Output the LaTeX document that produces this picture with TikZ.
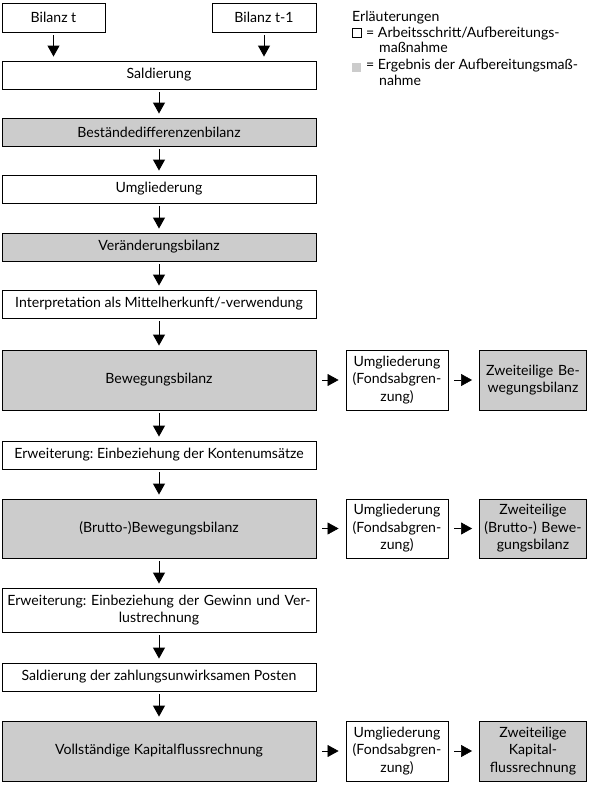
\documentclass[tikz,border=0pt]{standalone}
\usepackage{fontspec}
\setmainfont{Lato}
\usetikzlibrary{arrows.meta}
\begin{document}
\frenchspacing
\begin{tikzpicture}[x=1pt,y=-1pt,
  txt/.style={font=\fontsize{14.1}{17.5}\selectfont},
  box/.style={txt, draw=black, line width=0.9pt, fill=white, minimum height=28pt, inner sep=1pt, align=center},
  res/.style={box, fill=black!20},
  mainw/.style={minimum width=314pt},
  sidea/.style={box, minimum width=102pt, minimum height=60pt, text width=100pt},
  sideb/.style={res, minimum width=107pt, minimum height=60pt, text width=105pt},
  arr/.style={-{Triangle[length=11pt,width=12pt]}, line width=0.9pt, shorten <=3pt, shorten >=4pt},
  harr/.style={-{Triangle[length=11pt,width=12pt]}, line width=0.6pt, shorten <=6pt, shorten >=7pt},
  leg/.style={txt, anchor=base west, inner sep=0pt}]
\useasboundingbox (0,0) rectangle (590,785);
% top inputs
\node[box, minimum width=103pt, minimum height=29pt] (bt) at (53.5,17.5) {Bilanz t};
\node[box, minimum width=104pt, minimum height=29pt] (bt1) at (264,17.5) {Bilanz t-1};
% main column
\node[box, mainw] (sald) at (159,75) {Saldierung};
\node[res, mainw] (best) at (159,132) {Beständedifferenzenbilanz};
\node[box, mainw] (umg) at (159,189) {Umgliederung};
\node[res, mainw] (ver) at (159,247) {Veränderungsbilanz};
\node[box, mainw] (int) at (159,304) {Interpretation als Mittelherkunft/-verwendung};
\node[res, mainw, minimum height=60pt] (bew) at (159,380) {Bewegungsbilanz};
\node[box, mainw] (erw1) at (159,455) {Erweiterung: Einbeziehung der Kontenumsätze};
\node[res, mainw, minimum height=59pt] (brut) at (159,528.5) {(Brutto-)Bewegungsbilanz};
\node[box, mainw, minimum height=44pt, text width=312pt] (erw2) at (159,610) {Erweiterung: Einbeziehung der Gewinn und Ver-\\lustrechnung};
\node[box, mainw] (sald2) at (159,677) {Saldierung der zahlungsunwirksamen Posten};
\node[res, mainw, minimum height=60pt] (voll) at (159,751) {Vollständige Kapitalflussrechnung};
% side boxes
\node[sidea] (u1) at (397,380) {Umgliederung\\(Fondsabgren-\\zung)};
\node[sideb] (z1) at (533,380) {Zweiteilige Be-\\wegungsbilanz};
\node[sidea, minimum height=59pt] (u2) at (397,528.5) {Umgliederung\\(Fondsabgren-\\zung)};
\node[sideb, minimum height=59pt] (z2) at (533,528.5) {Zweiteilige\\(Brutto-) Bewe-\\gungsbilanz};
\node[sidea] (u3) at (397,751) {Umgliederung\\(Fondsabgren-\\zung)};
\node[sideb] (z3) at (533,751) {Zweiteilige\\Kapital-\\flussrechnung};
% vertical arrows
\draw[arr] (bt.south) -- (bt.south |- sald.north);
\draw[arr] (bt1.south) -- (bt1.south |- sald.north);
\draw[arr] (sald) -- (best);
\draw[arr] (best) -- (umg);
\draw[arr] (umg) -- (ver);
\draw[arr] (ver) -- (int);
\draw[arr] (int) -- (bew);
\draw[arr] (bew) -- (erw1);
\draw[arr] (erw1) -- (brut);
\draw[arr] (brut) -- (erw2);
\draw[arr] (erw2) -- (sald2);
\draw[arr] (sald2) -- (voll);
% horizontal arrows
\draw[harr] (bew) -- (u1);
\draw[harr] (u1) -- (z1);
\draw[harr] (brut) -- (u2);
\draw[harr] (u2) -- (z2);
\draw[harr] (voll) -- (u3);
\draw[harr] (u3) -- (z3);
% legend
\node[leg] (lt) at (352,21) {Erläuterungen};
\node[draw=black, line width=0.8pt, minimum size=9pt, inner sep=0pt] (lw) at (356.5,32.5) {};
\node[leg] (l1) at (366,37) {= Arbeitsschritt/Aufbereitungs-};
\node[leg] (l2) at (379,52) {maßnahme};
\node[fill=black!20, minimum size=9pt, inner sep=0pt] (lg) at (356.5,67.5) {};
\node[leg] (l3) at (366,69) {= Ergebnis der Aufbereitungsmaß-};
\node[leg] (l4) at (379,85) {nahme};
\end{tikzpicture}
\end{document}
